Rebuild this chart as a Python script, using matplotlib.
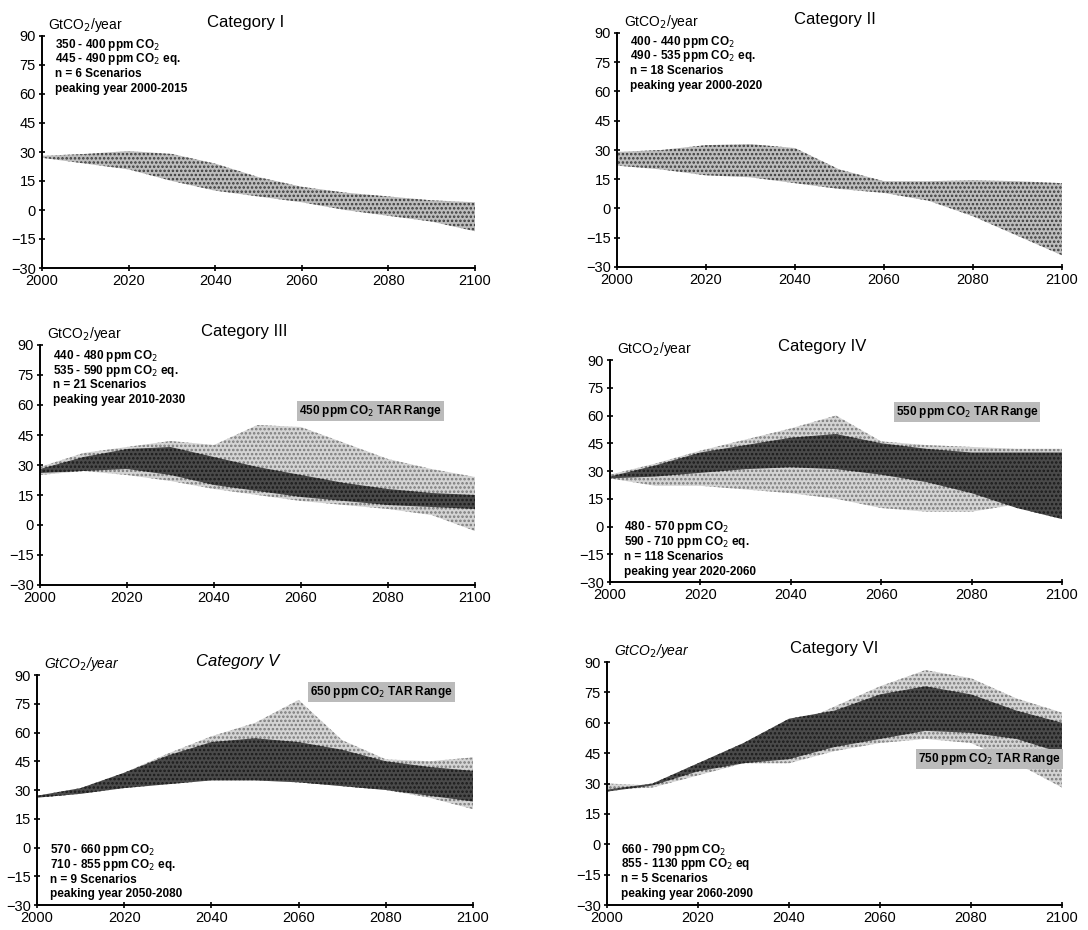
import matplotlib
matplotlib.use("Agg")
import matplotlib.pyplot as plt

plt.rcParams["font.family"] = ["Liberation Sans", "DejaVu Sans"]
plt.rcParams["hatch.linewidth"] = 1.2

years = [2000, 2010, 2020, 2030, 2040, 2050, 2060, 2070, 2080, 2090, 2100]

# Category I
cat1_hi = [28, 29, 30.5, 29, 24, 17, 12, 9, 7, 5, 4]
cat1_lo = [27, 24, 21, 15, 10, 7, 4, 0, -3, -6, -11]

# Category II
cat2_hi = [29, 30, 32.5, 33, 31, 20, 14, 14, 14.5, 14, 13]
cat2_lo = [22, 20, 17, 16, 13, 10, 8, 4, -4, -14, -24]

# Category III (450 ppm TAR range + scenario range)
cat3_tar_hi = [29, 36, 39, 42, 40, 50, 49, 41, 33, 28, 24]
cat3_tar_lo = [25, 27, 25, 22, 18, 15, 12, 10, 8, 5, -3]
cat3_hi = [28, 34, 38, 39, 34, 29, 25, 21, 18, 16, 15]
cat3_lo = [26, 27, 28, 25, 20, 17, 14, 12, 10, 9, 8]

# Category IV (550 ppm)
cat4_tar_hi = [28, 34, 41, 47, 53, 60, 46, 44, 43, 42, 42]
cat4_tar_lo = [26, 22, 22, 20, 18, 15, 10, 8, 8, 12, 15]
cat4_hi = [27, 33, 40, 44, 48, 50, 45, 42, 40, 40, 40]
cat4_lo = [26, 27, 29, 31, 32, 31, 28, 24, 18, 10, 4]

# Category V (650 ppm)
cat5_tar_hi = [27, 30, 39, 49, 58, 65, 77, 56, 46, 45, 47]
cat5_tar_lo = [26, 28, 32, 34, 35, 35, 34, 32, 30, 26, 20]
cat5_hi = [27, 31, 39, 48, 55, 57, 55, 51, 45, 42, 40]
cat5_lo = [26, 28, 31, 33, 35, 35, 34, 32, 30, 27, 24]

# Category VI (750 ppm)
cat6_tar_hi = [30, 29, 40, 48, 58, 68, 78, 86, 82, 72, 65]
cat6_tar_lo = [27, 28, 34, 40, 40, 46, 50, 52, 50, 40, 28]
cat6_hi = [27, 30, 40, 50, 62, 66, 74, 78, 74, 66, 60]
cat6_lo = [26, 29, 36, 40, 42, 48, 52, 56, 55, 52, 45]

titles = ["Category I", "Category II", "Category III",
          "Category IV", "Category V", "Category VI"]
info = [
    ["350 - 400 ppm CO$_2$", "445 - 490 ppm CO$_2$ eq.",
     "n = 6 Scenarios", "peaking year 2000-2015"],
    ["400 - 440 ppm CO$_2$", "490 - 535 ppm CO$_2$ eq.",
     "n = 18 Scenarios", "peaking year 2000-2020"],
    ["440 - 480 ppm CO$_2$", "535 - 590 ppm CO$_2$ eq.",
     "n = 21 Scenarios", "peaking year 2010-2030"],
    ["480 - 570 ppm CO$_2$", "590 - 710 ppm CO$_2$ eq.",
     "n = 118 Scenarios", "peaking year 2020-2060"],
    ["570 - 660 ppm CO$_2$", "710 - 855 ppm CO$_2$ eq.",
     "n = 9 Scenarios", "peaking year 2050-2080"],
    ["660 - 790 ppm CO$_2$", "855 - 1130 ppm CO$_2$ eq",
     "n = 5 Scenarios", "peaking year 2060-2090"],
]
tar_labels = [None, None, "450 ppm CO$_2$ TAR Range", "550 ppm CO$_2$ TAR Range",
              "650 ppm CO$_2$ TAR Range", "750 ppm CO$_2$ TAR Range"]

bands = [
    (None, None, cat1_lo, cat1_hi),
    (None, None, cat2_lo, cat2_hi),
    (cat3_tar_lo, cat3_tar_hi, cat3_lo, cat3_hi),
    (cat4_tar_lo, cat4_tar_hi, cat4_lo, cat4_hi),
    (cat5_tar_lo, cat5_tar_hi, cat5_lo, cat5_hi),
    (cat6_tar_lo, cat6_tar_hi, cat6_lo, cat6_hi),
]

W, H = 1088, 930
# axes boxes in pixels: left, top, right, bottom
boxes = [
    (42, 36, 475, 268),
    (617, 33, 1062, 267),
    (40, 345, 475, 585),
    (610, 360, 1062, 582),
    (37, 675, 473, 905),
    (607, 662, 1062, 905),
]
# first line of the info block (data coords), and whether it grows up or down
info_pos = [(2003, 84, -1), (2003, 84, -1), (2003, 83, -1),
            (2003, -26, 1), (2003, -26, 1), (2003, -26, 1)]
tar_pos = [None, None, (2076, 57), (2079, 62), (2079, 81), (2084, 42)]
title_x = [0.47, 0.49, 0.47, 0.47, 0.46, 0.50]
italic = [False, False, False, False, True, False]
unit_italic = [False, False, False, False, True, True]
line_step = 10.6  # points between info lines

fig = plt.figure(figsize=(W / 100, H / 100), dpi=100)

for i in range(6):
    l, t, r, b = boxes[i]
    ax = fig.add_axes([l / W, 1 - b / H, (r - l) / W, (b - t) / H])
    tlo, thi, lo, hi = bands[i]
    if tlo is not None:
        ax.fill_between(years, tlo, thi, facecolor="#d4d4d4", edgecolor="#7a7a7a",
                        hatch="....", linewidth=0)
        ax.fill_between(years, lo, hi, facecolor="#4a4a4a", edgecolor="#1a1a1a",
                        hatch="....", linewidth=0)
    else:
        ax.fill_between(years, lo, hi, facecolor="#bdbdbd", edgecolor="#3a3a3a",
                        hatch="....", linewidth=0)

    ax.set_xlim(2000, 2100)
    ax.set_ylim(-30, 90)
    ax.set_xticks([2000, 2020, 2040, 2060, 2080, 2100])
    ax.set_yticks(range(-30, 91, 15))
    ax.spines["top"].set_visible(False)
    ax.spines["right"].set_visible(False)
    for s in ["left", "bottom"]:
        ax.spines[s].set_linewidth(1.4)
    ax.tick_params(direction="inout", length=5, width=1.2, labelsize=10.5, pad=2)

    style = "italic" if unit_italic[i] else "normal"
    ax.text(0.015, 1.01, "GtCO$_2$/year", transform=ax.transAxes, fontsize=10,
            style=style, va="bottom", ha="left")
    ax.text(title_x[i], 1.025, titles[i], transform=ax.transAxes, fontsize=12,
            style="italic" if italic[i] else "normal", va="bottom", ha="center")

    # info block, one line at a time so the spacing stays even
    x0, y0, direction = info_pos[i]
    lines = info[i] if direction < 0 else info[i][::-1]
    for k, line in enumerate(lines):
        ax.annotate(line, xy=(x0, y0), xycoords="data",
                    xytext=(0, direction * k * line_step), textcoords="offset points",
                    fontsize=8.5, fontweight="bold", ha="left", va="baseline")

    if tar_labels[i]:
        xt, yt = tar_pos[i]
        ax.text(xt, yt, tar_labels[i], fontsize=8.5, fontweight="bold",
                ha="center", va="center",
                bbox=dict(facecolor="#bbbbbb", edgecolor="none", pad=1.5))

fig.savefig("out.png", dpi=100)
